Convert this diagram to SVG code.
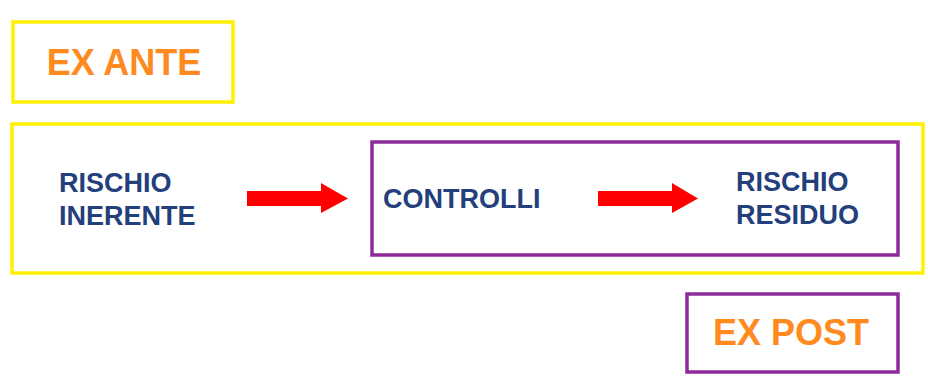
<svg xmlns="http://www.w3.org/2000/svg" width="928" height="377" viewBox="0 0 928 377">
<style>
.yb{fill:none;stroke:#FFF200;stroke-width:3.5}
.pb{fill:none;stroke:#8E2A9C;stroke-width:3.5}
.lbl{font-family:"Liberation Sans",Arial,sans-serif;font-weight:bold;font-size:27px;fill:#233F7C}
.or{font-family:"Liberation Sans",Arial,sans-serif;font-weight:bold;font-size:36px;fill:#FF8A1E}
.arr{fill:#FF0000}
</style>
<rect width="928" height="377" fill="#fff"/>
<g id="exante">
<rect class="yb" x="13" y="22" width="220" height="80"/>
<text class="or" x="124" y="75" text-anchor="middle">EX ANTE</text>
</g>
<g id="outer">
<rect class="yb" x="12" y="124" width="911" height="149"/>
</g>
<g id="inner">
<rect class="pb" x="372" y="142" width="526" height="113"/>
</g>
<g id="inerente">
<text class="lbl" x="59" y="192">RISCHIO</text>
<text class="lbl" x="59" y="225">INERENTE</text>
</g>
<g id="controlli">
<text class="lbl" x="383" y="208">CONTROLLI</text>
</g>
<g id="residuo">
<text class="lbl" x="736" y="191">RISCHIO</text>
<text class="lbl" x="736" y="224">RESIDUO</text>
</g>
<g id="expost">
<rect class="pb" x="687" y="294" width="211" height="78"/>
<text class="or" x="713" y="345">EX POST</text>
</g>
<g id="connectors">
<polygon class="arr" points="247,191 321,191 321,183 348,198.5 321,213 321,206 247,206"/>
<polygon class="arr" points="598,191 672,191 672,183 698,198.5 672,213 672,206 598,206"/>
</g>
</svg>
